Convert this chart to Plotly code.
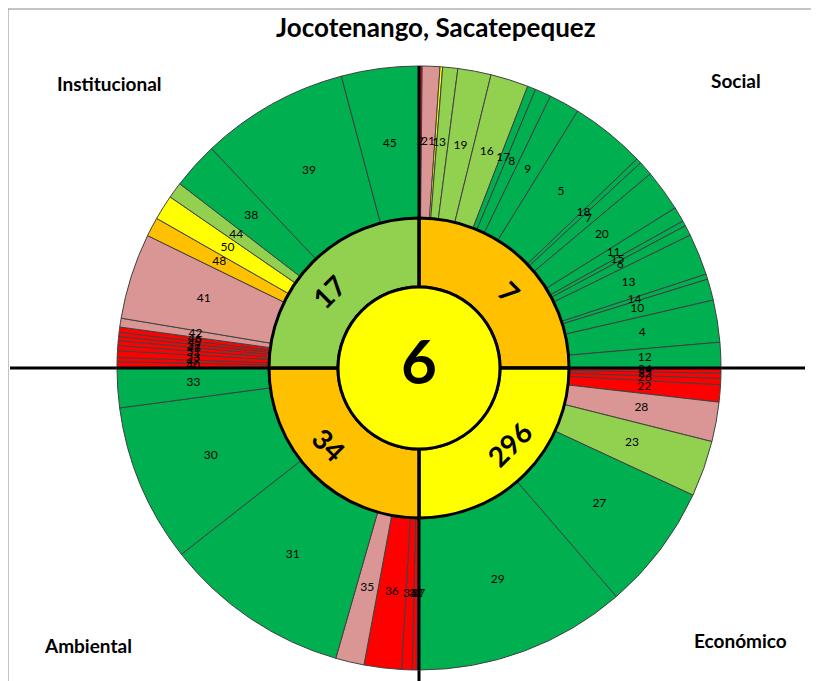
import plotly.graph_objects as go
import numpy as np

# ---------------- data ----------------
TITLE = "Jocotenango, Sacatepequez"
CENTER_VALUE = "6"
CENTER_STATUS = "Y"

dimension_names = ["Social", "Económico", "Ambiental", "Institucional"]
dimension_values = ["7", "296", "34", "17"]
dimension_status = ["O", "Y", "O", "LG"]

social_ids = [2, 21, 1, 3, 19, 16, 17, 8, 9, 5, 18, 7, 20, 11, 15, 6, 13, 14, 10, 4, 12]
social_weights = [0.6, 3.4, 0.5, 2.9, 6.4, 7.3, 1.6, 3.1, 5.9, 14.5, 1.0, 2.8, 8.0, 2.9, 1.0, 2.0, 8.0, 1.0, 4.1, 8.1, 4.9]
social_status = ["R", "P", "Y", "LG", "LG", "LG", "G", "G", "G", "G", "G", "G", "G", "G", "G", "G", "G", "G", "G", "G", "G"]

economic_ids = [24, 25, 26, 22, 28, 23, 27, 29]
economic_weights = [1.0, 1.0, 1.2, 3.3, 7.6, 10.8, 24.3, 40.8]
economic_status = ["R", "R", "R", "R", "P", "LG", "G", "G"]

environment_ids = [37, 32, 34, 36, 35, 31, 30, 33]
environment_weights = [0.4, 0.9, 2.0, 7.2, 5.5, 35.9, 30.5, 7.6]
environment_status = ["R", "R", "R", "R", "P", "G", "G", "G"]

institutional_ids = [40, 47, 53, 51, 43, 52, 49, 46, 42, 41, 48, 50, 44, 38, 39, 45]
institutional_weights = [1.2, 0.8, 1.3, 1.0, 0.9, 0.8, 0.8, 1.0, 1.7, 16.5, 3.7, 4.8, 3.1, 9.0, 28.5, 14.9]
institutional_status = ["R", "R", "R", "R", "R", "R", "R", "R", "P", "P", "O", "Y", "LG", "G", "G", "G"]

# ---------------- styles ----------------
COLORS = {"R": "#FF0000", "P": "#DA9694", "Y": "#FFFF00", "O": "#FFC000",
          "LG": "#92D050", "G": "#00B050"}
W, H = 819, 681
PAGE_OFF = 8               # default body margin of the html page
CX, CY = 419, 368          # screen pixel centre of the wheel
R_AX = 305                 # radial axis range (1 unit = 1 px)
R_IN, R_MID, R_OUT = 81, 150, 302
R_LABEL = 226
R_DIM_LABEL = 118
FONT = "Lato"

quadrants = [
    (social_ids, social_weights, social_status),
    (economic_ids, economic_weights, economic_status),
    (environment_ids, environment_weights, environment_status),
    (institutional_ids, institutional_weights, institutional_status),
]

thetas, widths, cols, labels = [], [], [], []
for q, (ids, wts, sts) in enumerate(quadrants):
    wts = np.array(wts, dtype=float)
    span = wts / wts.sum() * 90.0
    edges = 90.0 * q + np.concatenate([[0], np.cumsum(span)])
    for i in range(len(ids)):
        thetas.append((edges[i] + edges[i + 1]) / 2)
        widths.append(span[i])
        cols.append(COLORS[sts[i]])
        labels.append(str(ids[i]))

fig = go.Figure()

fig.add_trace(go.Barpolar(
    r=[R_OUT - R_MID] * len(thetas), base=R_MID, theta=thetas, width=widths,
    marker=dict(color=cols, line=dict(color="#404040", width=1)),
    hoverinfo="text", hovertext=labels, showlegend=False))

dim_theta = [45 + 90 * q for q in range(4)]
fig.add_trace(go.Barpolar(
    r=[R_MID - R_IN] * 4, base=R_IN, theta=dim_theta, width=[90] * 4,
    marker=dict(color=[COLORS[s] for s in dimension_status], line=dict(color="black", width=3)),
    hoverinfo="text", hovertext=dimension_names, showlegend=False))

fig.add_trace(go.Scatterpolar(
    r=[R_IN, R_OUT, None] * 4,
    theta=sum([[a, a, None] for a in [0, 90, 180, 270]], []),
    mode="lines", line=dict(color="black", width=3),
    hoverinfo="skip", showlegend=False))

fig.add_trace(go.Barpolar(
    r=[R_IN], base=0, theta=[0], width=[360],
    marker=dict(color=COLORS[CENTER_STATUS], line=dict(color="black", width=3)),
    hoverinfo="skip", showlegend=False))

fig.add_trace(go.Scatterpolar(
    r=[R_LABEL] * len(thetas), theta=thetas, text=labels, mode="text",
    textfont=dict(family=FONT, size=12, color="black"),
    hoverinfo="skip", showlegend=False))

fig.add_trace(go.Scatterpolar(
    r=[0], theta=[0], text=[CENTER_VALUE], mode="text",
    textfont=dict(family=FONT, size=62, color="black", weight="bold"),
    hoverinfo="skip", showlegend=False))


def px_to_paper(x, y):
    return (x - PAGE_OFF) / W, 1 - (y - PAGE_OFF) / H


annotations = []
dim_label_theta = [50, 130, 230, 310]
dim_label_angle = [45, -45, 45, -45]
for q in range(4):
    a = np.radians(dim_label_theta[q])
    px, py = CX + R_DIM_LABEL * np.sin(a), CY - R_DIM_LABEL * np.cos(a)
    x, y = px_to_paper(px, py)
    annotations.append(dict(x=x, y=y, xref="paper", yref="paper", text=dimension_values[q],
                            xanchor="center", yanchor="middle",
                            showarrow=False, textangle=dim_label_angle[q],
                            font=dict(family=FONT, size=28, color="black", weight="bold")))

corner_pos = {"Social": (736, 81), "Económico": (740, 640), "Ambiental": (88, 645), "Institucional": (109, 84)}
for name in dimension_names:
    x, y = px_to_paper(*corner_pos[name])
    annotations.append(dict(x=x, y=y, xref="paper", yref="paper", text=name, showarrow=False,
                            xanchor="center", yanchor="middle",
                            font=dict(family=FONT, size=19, color="black", weight="bold")))

tx, ty = px_to_paper(436, 27)
annotations.append(dict(x=tx, y=ty, xref="paper", yref="paper", text=TITLE, showarrow=False,
                        xanchor="center", yanchor="middle",
                        font=dict(family=FONT, size=26, color="black", weight="bold")))

bx0, by0 = px_to_paper(8, 9)
bx1, by1 = px_to_paper(812, 700)
hx0, hy = px_to_paper(10, CY)
hx1, _ = px_to_paper(805, CY)
vx, vy0 = px_to_paper(CX, 67)
_, vy1 = px_to_paper(CX, 700)
shapes = [
    dict(type="rect", xref="paper", yref="paper", x0=bx0, x1=bx1, y0=by1, y1=by0,
         line=dict(color="#8a8a8a", width=1), layer="below"),
    dict(type="line", xref="paper", yref="paper", x0=hx0, x1=hx1, y0=hy, y1=hy,
         line=dict(color="black", width=3), layer="below"),
    dict(type="line", xref="paper", yref="paper", x0=vx, x1=vx, y0=vy0, y1=vy1,
         line=dict(color="black", width=3), layer="below"),
]

dx0, dy_top = px_to_paper(CX - R_AX, CY - R_AX)
dx1, dy_bot = px_to_paper(CX + R_AX, CY + R_AX)

fig.update_layout(
    width=W, height=H, margin=dict(l=0, r=0, t=0, b=0),
    paper_bgcolor="white", plot_bgcolor="white",
    polar=dict(
        domain=dict(x=[dx0, dx1], y=[dy_bot, dy_top]),
        bgcolor="rgba(0,0,0,0)", bargap=0,
        radialaxis=dict(range=[0, R_AX], visible=False),
        angularaxis=dict(rotation=90, direction="clockwise", visible=False),
    ),
    annotations=annotations, shapes=shapes, showlegend=False,
)

fig.write_html("out.html")
